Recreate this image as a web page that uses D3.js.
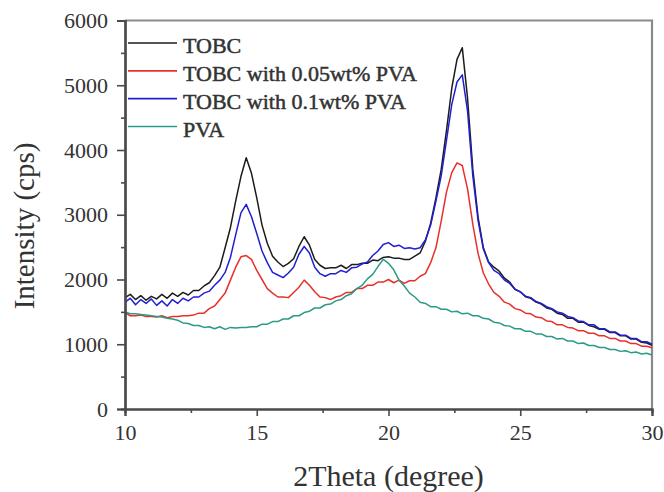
<!DOCTYPE html>
<html>
<head>
<meta charset="utf-8">
<script src="https://cdn.jsdelivr.net/npm/d3@7"></script>
<style>
  html, body { margin: 0; padding: 0; background: #fff; }
  svg { display: block; }
  text { font-family: "Liberation Serif", "Times New Roman", serif; }
</style>
</head>
<body>
<svg id="chart" width="664" height="492"></svg>
<script>
const twoTheta = [10.0,10.2,10.4,10.6,10.8,11.0,11.2,11.4,11.6,11.8,12.0,12.2,12.4,12.6,12.8,13.0,13.2,13.4,13.6,13.8,
  14.0,14.2,14.4,14.6,14.8,15.0,15.2,15.4,15.6,15.8,16.0,16.2,16.4,16.6,16.8,17.0,17.2,17.4,17.6,17.8,
  18.0,18.2,18.4,18.6,18.8,19.0,19.2,19.4,19.6,19.8,20.0,20.2,20.4,20.6,20.8,21.0,21.2,21.4,21.6,21.8,
  22.0,22.2,22.4,22.6,22.8,23.0,23.2,23.4,23.6,23.8,24.0,24.2,24.4,24.6,24.8,25.0,25.2,25.4,25.6,25.8,
  26.0,26.2,26.4,26.6,26.8,27.0,27.2,27.4,27.6,27.8,28.0,28.2,28.4,28.6,28.8,29.0,29.2,29.4,29.6,29.8,30.0];

const tobc = [1720,1770,1690,1750,1680,1740,1700,1770,1710,1790,1740,1800,1760,1830,1830,1900,1950,2060,2190,2490,
  2800,3210,3590,3880,3640,3260,2840,2560,2360,2270,2200,2250,2320,2510,2660,2530,2310,2220,2170,2180,
  2180,2220,2170,2230,2230,2250,2250,2300,2290,2340,2350,2330,2330,2310,2310,2360,2410,2590,2870,3260,
  3700,4300,4950,5400,5580,4800,3700,2960,2490,2270,2190,2130,2020,1960,1850,1810,1735,1710,1650,1620,
  1560,1540,1480,1460,1400,1400,1340,1340,1290,1270,1230,1230,1180,1180,1130,1130,1080,1080,1030,1020,985];

const tobc005 = [1490,1440,1440,1450,1430,1430,1420,1440,1410,1430,1430,1440,1440,1450,1480,1480,1550,1590,1690,1790,
  1990,2190,2350,2370,2310,2140,2000,1860,1790,1730,1730,1720,1800,1880,1990,1910,1810,1730,1720,1690,
  1730,1750,1800,1800,1860,1860,1910,1910,1960,1960,2000,1950,1990,1940,1980,1980,2050,2090,2260,2490,
  2900,3350,3650,3800,3760,3400,2850,2400,2100,1930,1800,1740,1650,1620,1550,1530,1480,1470,1420,1410,
  1360,1350,1300,1300,1260,1250,1210,1210,1170,1170,1130,1130,1090,1090,1050,1050,1010,1010,970,970,945];

const tobc01 = [1650,1710,1610,1690,1630,1700,1600,1670,1590,1690,1630,1710,1670,1730,1730,1790,1820,1910,1990,2110,
  2340,2690,3030,3160,2970,2710,2440,2260,2110,2070,2030,2100,2190,2390,2510,2410,2190,2090,2050,2090,
  2090,2140,2110,2180,2190,2240,2270,2370,2440,2540,2570,2510,2530,2480,2490,2470,2490,2610,2840,3210,
  3600,4150,4700,5050,5160,4600,3600,2910,2470,2260,2140,2090,1990,1940,1850,1810,1740,1720,1660,1630,
  1580,1550,1500,1480,1430,1410,1360,1350,1300,1300,1240,1240,1190,1190,1140,1140,1090,1090,1040,1040,1000];

const pva = [1500,1470,1470,1460,1450,1440,1430,1420,1400,1390,1370,1330,1320,1290,1290,1260,1270,1240,1270,1230,
  1260,1250,1260,1260,1270,1270,1310,1310,1350,1350,1390,1390,1440,1440,1490,1510,1560,1560,1610,1620,
  1670,1690,1750,1780,1860,1910,2010,2080,2200,2310,2250,2150,1990,1900,1790,1730,1650,1630,1580,1580,
  1540,1540,1500,1510,1470,1480,1440,1440,1400,1390,1340,1330,1290,1280,1240,1240,1200,1200,1160,1160,
  1120,1120,1080,1090,1050,1050,1010,1020,980,980,950,950,920,920,890,900,870,880,850,860,835];

const seriesNames = ["TOBC", "TOBC with 0.05wt% PVA", "TOBC with 0.1wt% PVA", "PVA"];
const seriesValues = [tobc, tobc005, tobc01, pva];
const seriesColors = ["#1c1c1c", "#e8302a", "#2020d2", "#2b9a88"];
const drawOrder = [0, 1, 2, 3];

const xTicks = [10, 15, 20, 25, 30];
const xMinor = [12.5, 17.5, 22.5, 27.5];
const yTicks = [0, 1000, 2000, 3000, 4000, 5000, 6000];
const yMinor = [500, 1500, 2500, 3500, 4500, 5500];

const serif = "'Liberation Serif', 'Times New Roman', serif";
const svg = d3.select("#chart");
const L = 125, R = 652, T = 20.5, B = 409;
const x = d3.scaleLinear().domain([10, 30]).range([L, R]);
const y = d3.scaleLinear().domain([0, 6000]).range([B, T]);

// frame (top & right)
svg.append("path")
  .attr("d", `M${L},${T}H${R}V${B}`)
  .attr("fill", "none").attr("stroke", "#8a8a8a").attr("stroke-width", 2.2);

// curves
const line = d3.line().x(d => x(d[0])).y(d => y(d[1]));
drawOrder.forEach(i => {
  const pts = twoTheta.map((t, k) => [t, seriesValues[i][k]]);
  svg.append("path").datum(pts)
    .attr("d", line)
    .attr("fill", "none")
    .attr("stroke", seriesColors[i])
    .attr("stroke-width", 1.5)
    .attr("stroke-linejoin", "round");
});

// axes
const axisColor = "#4a4a4a";
const xAxis = svg.append("g").attr("transform", `translate(0,${B})`)
  .call(d3.axisBottom(x).tickValues(xTicks).tickSize(7).tickPadding(8).tickFormat(d3.format("d")));
const xAxisMinor = svg.append("g").attr("transform", `translate(0,${B})`)
  .call(d3.axisBottom(x).tickValues(xMinor).tickSize(4).tickFormat(""));
const yAxis = svg.append("g").attr("transform", `translate(${L},0)`)
  .call(d3.axisLeft(y).tickValues(yTicks).tickSize(8).tickPadding(9).tickFormat(d3.format("d")));
const yAxisMinor = svg.append("g").attr("transform", `translate(${L},0)`)
  .call(d3.axisLeft(y).tickValues(yMinor).tickSize(4).tickFormat(""));

[xAxis, xAxisMinor, yAxis, yAxisMinor].forEach(g => {
  g.select(".domain").attr("stroke", axisColor).attr("stroke-width", 2.2);
  g.selectAll(".tick line").attr("stroke", axisColor).attr("stroke-width", 1.6);
  g.selectAll(".tick text")
    .attr("fill", "#333")
    .style("font-family", serif)
    .style("font-size", "22px");
});
xAxis.selectAll(".tick text").attr("dy", "0.71em");

// axis titles
svg.append("text")
  .attr("x", (L + R) / 2).attr("y", 486)
  .attr("text-anchor", "middle")
  .attr("fill", "#333")
  .style("font-family", serif)
  .style("font-size", "30px")
  .text("2Theta (degree)");

svg.append("text")
  .attr("transform", `translate(34,226) rotate(-90)`)
  .attr("text-anchor", "middle")
  .attr("fill", "#333")
  .style("font-family", serif)
  .style("font-size", "29px")
  .text("Intensity (cps)");

// legend
const legend = svg.append("g");
const rowY = d3.scaleLinear().domain([0, 3]).range([43, 126.5]);
seriesNames.forEach((name, i) => {
  const yy = rowY(i);
  legend.append("line")
    .attr("x1", 128).attr("x2", 177).attr("y1", yy).attr("y2", yy)
    .attr("stroke", seriesColors[i]).attr("stroke-width", 1.6);
  legend.append("text")
    .attr("x", 183).attr("y", yy + 10)
    .attr("fill", "#333")
    .attr("stroke", "#333")
    .attr("stroke-width", 0.5)
    .style("font-family", serif)
    .style("font-size", "22px")
    .text(name);
});
</script>
</body>
</html>
